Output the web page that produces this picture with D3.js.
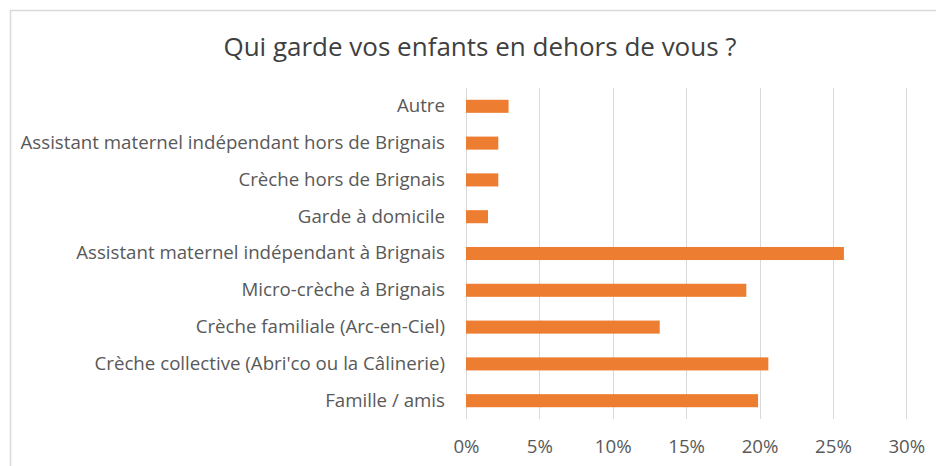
<!DOCTYPE html>
<html>
<head>
<meta charset="utf-8">
<script src="https://cdn.jsdelivr.net/npm/d3@7"></script>
<style>
    body { margin: 0; background: #fff; }
    text { font-family: "Open Sans", sans-serif; }
</style>
</head>
<body>
<div id="vis"></div>
<script>
// categories, top to bottom as shown
var categories = [
    'Autre',
    'Assistant maternel indépendant hors de Brignais',
    'Crèche hors de Brignais',
    'Garde à domicile',
    'Assistant maternel indépendant à Brignais',
    'Micro-crèche à Brignais',
    'Crèche familiale (Arc-en-Ciel)',
    "Crèche collective (Abri'co ou la Câlinerie)",
    'Famille / amis'
];
var shares = [0.029, 0.022, 0.022, 0.015, 0.2575, 0.191, 0.132, 0.206, 0.199];
var ticks = [0, 0.05, 0.10, 0.15, 0.20, 0.25, 0.30];
var title = 'Qui garde vos enfants en dehors de vous ?';

var width = 936, height = 466;
var margin = { left: 466, right: 30, top: 88, bottom: 47 };
var labelSize = '18.7px';

var svg = d3.select('#vis')
    .append('svg')
    .attr('width', width)
    .attr('height', height);

// chart border (only top and left visible in the crop)
svg.append('rect')
    .attr('x', 10.5)
    .attr('y', 10.5)
    .attr('width', width + 20)
    .attr('height', height + 20)
    .attr('fill', 'none')
    .attr('stroke', '#d9d9d9')
    .attr('stroke-width', 1.5);

var xScale = d3.scaleLinear()
    .domain([0, 0.30])
    .range([margin.left, 906.3]);

var yScale = d3.scaleBand()
    .domain(categories)
    .range([margin.top, height - margin.bottom])
    .paddingInner(0.645)
    .paddingOuter(0.32);

// gridlines
svg.append('g')
    .selectAll('line')
    .data(ticks)
    .enter().append('line')
    .attr('x1', function(d) { return Math.round(xScale(d)) + 0.5; })
    .attr('x2', function(d) { return Math.round(xScale(d)) + 0.5; })
    .attr('y1', margin.top)
    .attr('y2', height - margin.bottom)
    .attr('stroke', '#d9d9d9')
    .attr('stroke-width', 1);

// bars
svg.append('g')
    .selectAll('rect')
    .data(shares)
    .enter().append('rect')
    .attr('x', xScale(0))
    .attr('y', function(d, i) { return yScale(categories[i]); })
    .attr('width', function(d) { return xScale(d) - xScale(0); })
    .attr('height', yScale.bandwidth())
    .attr('fill', '#ed7d31');

// category labels
var yAxis = d3.axisLeft(yScale).tickSize(0).tickPadding(21);
var gy = svg.append('g')
    .attr('transform', 'translate(' + margin.left + ',0)')
    .call(yAxis);
gy.select('.domain').remove();
gy.selectAll('text')
    .style('font-family', '"Open Sans", sans-serif')
    .style('font-size', labelSize)
    .attr('fill', '#595959');

// x tick labels
var xAxis = d3.axisBottom(xScale)
    .tickValues(ticks)
    .tickSize(0)
    .tickPadding(21)
    .tickFormat(d3.format('.0%'));
var gx = svg.append('g')
    .attr('transform', 'translate(0,' + (height - margin.bottom) + ')')
    .call(xAxis);
gx.select('.domain').remove();
gx.selectAll('text')
    .style('font-family', '"Open Sans", sans-serif')
    .style('font-size', labelSize)
    .attr('fill', '#595959');

// title
svg.append('text')
    .attr('x', 480)
    .attr('y', 56)
    .attr('text-anchor', 'middle')
    .style('font-size', '26px')
    .attr('fill', '#404040')
    .text(title);
</script>
</body>
</html>
